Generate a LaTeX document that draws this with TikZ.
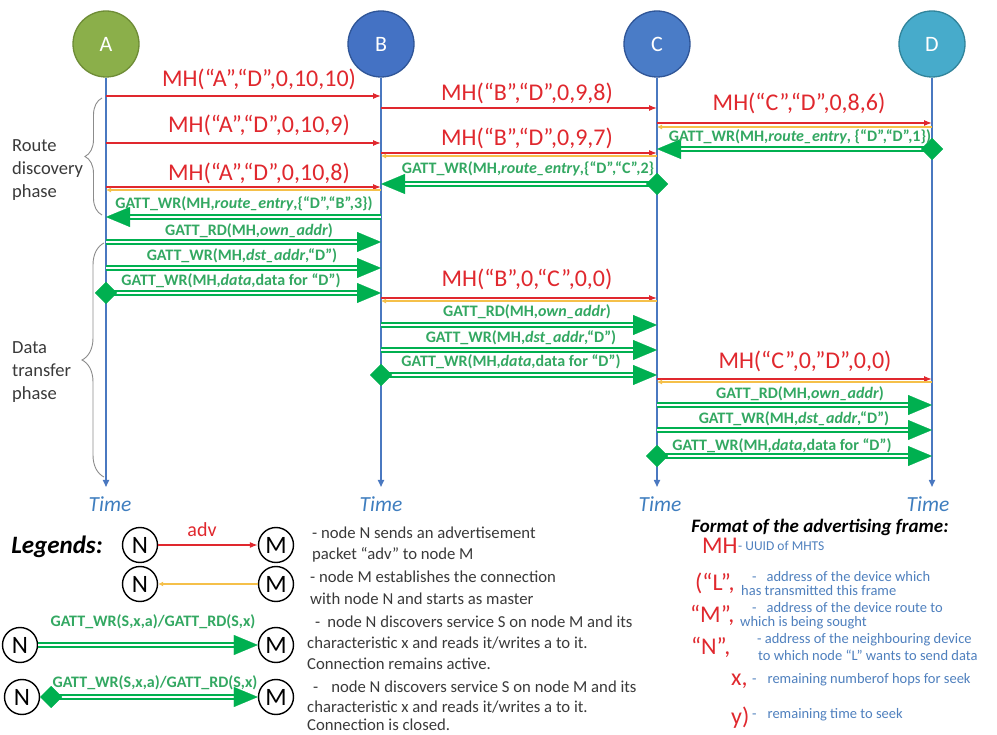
\documentclass[tikz,border=0pt]{standalone}
\usepackage{fontspec}
\setmainfont{Carlito}
\usetikzlibrary{arrows.meta,calc,decorations.pathreplacing}

\definecolor{advred}{HTML}{E0282E}
\definecolor{conyellow}{HTML}{F5C04A}
\definecolor{gattgreen}{HTML}{00B050}
\definecolor{gatttext}{HTML}{33A862}
\definecolor{lifeblue}{HTML}{4A78C0}
\definecolor{timeblue}{HTML}{3F7EBF}
\definecolor{descblue}{HTML}{4F80BE}
\definecolor{legendgray}{HTML}{3A3A3A}
\definecolor{bracegray}{HTML}{8C8C8C}
\definecolor{fillA}{HTML}{8BAF4A}
\definecolor{edgeA}{HTML}{6E8C36}
\definecolor{fillB}{HTML}{4472C4}
\definecolor{edgeB}{HTML}{2F5597}
\definecolor{fillC}{HTML}{4A7CC7}
\definecolor{fillD}{HTML}{47ABCB}
\definecolor{edgeD}{HTML}{31849B}

\begin{document}
\begin{tikzpicture}[x=1pt, y=-1pt,
  actor/.style={circle, minimum size=66pt, inner sep=0pt, line width=1.3pt, text=white, font=\fontsize{22}{24}\selectfont},
  lifeline/.style={draw=lifeblue, line width=1.6pt, arrows={-Triangle[length=7pt,width=6pt]}},
  advmsg/.style={draw=advred, line width=1.2pt, arrows={-Latex[length=8pt,width=6pt]}},
  conmsg/.style={draw=conyellow, line width=1.5pt, arrows={-Latex[length=5pt,width=5pt]}},
  gattmsg/.style={draw=gattgreen, line width=1.9pt, double=white, double distance=1.8pt,
    arrows={-Triangle[length=24pt,width=20pt,line width=0.2pt]}},
  gattend/.style={draw=gattgreen, line width=1.9pt, double=white, double distance=1.8pt,
    arrows={Diamond[length=22pt,width=22pt,line width=0.2pt]-Triangle[length=24pt,width=20pt,line width=0.2pt]}},
  advlbl/.style={text=advred, font=\fontsize{24}{26}\selectfont, inner sep=0pt},
  gattlbl/.style={text=gatttext, font=\bfseries\fontsize{16}{18}\selectfont, inner sep=0pt},
  timelbl/.style={text=timeblue, font=\itshape\fontsize{21.5}{24}\selectfont, inner sep=0pt},
  phaselbl/.style={text=legendgray, font=\fontsize{18.5}{23}\selectfont, align=left, anchor=west, inner sep=0pt},
  phasebrace/.style={draw=bracegray, line width=0.9pt, decorate},
  keynode/.style={circle, draw=black, line width=1.4pt, minimum size=35pt, inner sep=0pt, font=\fontsize{25}{27}\selectfont},
  keytext/.style={text=legendgray, font=\fontsize{16.7}{19}\selectfont, anchor=west, inner sep=0pt},
  keytitle/.style={text=black, font=\bfseries\itshape\fontsize{25}{27}\selectfont, inner sep=0pt},
  fieldlbl/.style={text=advred, font=\fontsize{24}{26}\selectfont, anchor=west, inner sep=0pt},
  fieldtext/.style={text=descblue, font=\fontsize{14.5}{16}\selectfont, anchor=west, inner sep=0pt},
]
\useasboundingbox (0,0) rectangle (997,735);
\fill[white] (0,0) rectangle (997,735);

% devices
\node[actor, fill=fillA, draw=edgeA] (A) at (106,44) {A};
\node[actor, fill=fillB, draw=edgeB] (B) at (381,44) {B};
\node[actor, fill=fillC, draw=edgeB] (C) at (657,44) {C};
\node[actor, fill=fillD, draw=edgeD] (D) at (932,44) {D};

% lifelines
\foreach \n in {A,B,C,D} \draw[lifeline] (\n.south) -- (\n |- 0,487);
\node[timelbl] (tA) at (110,504) {Time};
\node[timelbl] (tB) at (381,504) {Time};
\node[timelbl] (tC) at (660,504) {Time};
\node[timelbl] (tD) at (928,504) {Time};

% ---- route discovery ----
\draw[advmsg] (A |- 0,96) -- (B |- 0,96);
\node[advlbl] (r1) at (259,79) {MH(“A”,“D”,0,10,10)};
\draw[advmsg] (A |- 0,143) -- (B |- 0,143);
\node[advlbl] (r2) at (259,125) {MH(“A”,“D”,0,10,9)};
\draw[advmsg] (A |- 0,187) -- (B |- 0,187);
\draw[conmsg] (B |- 0,190) -- (A |- 0,190);
\node[advlbl] (r3) at (259,173) {MH(“A”,“D”,0,10,8)};

\draw[advmsg] (B |- 0,108) -- (C |- 0,108);
\node[advlbl] (r4) at (527,93) {MH(“B”,“D”,0,9,8)};
\draw[advmsg] (B |- 0,153) -- (C |- 0,153);
\draw[conmsg] (C |- 0,156) -- (B |- 0,156);
\node[advlbl] (r5) at (527,138) {MH(“B”,“D”,0,9,7)};

\draw[advmsg] (C |- 0,123) -- (D |- 0,123);
\draw[conmsg] (D |- 0,127) -- (C |- 0,127);
\node[advlbl] (r6) at (799,103) {MH(“C”,“D”,0,8,6)};

\draw[gattend] ($(D |- 0,149)+(11,0)$) -- (C |- 0,149);
\node[gattlbl] (g1) at (800,137) {GATT\_WR(MH,\textit{route\_entry}, \{“D”,“D”,1\})};
\draw[gattend] ($(C |- 0,184)+(11,0)$) -- (B |- 0,184);
\node[gattlbl] (g2) at (528,169) {GATT\_WR(MH,\textit{route\_entry},\{“D”,“C”,2\}};
\draw[gattmsg] (B |- 0,217) -- (A |- 0,217);
\node[gattlbl] (g3) at (244,204) {GATT\_WR(MH,\textit{route\_entry},\{“D”,“B”,3\})};

% ---- data transfer ----
\draw[gattmsg] (A |- 0,242) -- (B |- 0,242);
\node[gattlbl] (g4) at (249,231) {GATT\_RD(MH,\textit{own\_addr})};
\draw[gattmsg] (A |- 0,268) -- (B |- 0,268);
\node[gattlbl] (g5) at (242,256) {GATT\_WR(MH,\textit{dst\_addr},“D”)};
\draw[gattend] ($(A |- 0,293)+(-11,0)$) -- (B |- 0,293);
\node[gattlbl] (g6) at (231,281) {GATT\_WR(MH,\textit{data},data for “D”)};

\draw[advmsg] (B |- 0,298) -- (C |- 0,298);
\draw[conmsg] (C |- 0,301) -- (B |- 0,301);
\node[advlbl] (r7) at (527,279) {MH(“B”,0,“C”,0,0)};
\draw[gattmsg] (B |- 0,325) -- (C |- 0,325);
\node[gattlbl] (g7) at (527,312) {GATT\_RD(MH,\textit{own\_addr})};
\draw[gattmsg] (B |- 0,350) -- (C |- 0,350);
\node[gattlbl] (g8) at (521,338) {GATT\_WR(MH,\textit{dst\_addr},“D”)};
\draw[gattend] ($(B |- 0,375)+(-11,0)$) -- (C |- 0,375);
\node[gattlbl] (g9) at (511,362) {GATT\_WR(MH,\textit{data},data for “D”)};

\draw[advmsg] (C |- 0,379) -- (D |- 0,379);
\draw[conmsg] (D |- 0,382) -- (C |- 0,382);
\node[advlbl] (r8) at (805,361) {MH(“C”,0,”D”,0,0)};
\draw[gattmsg] (C |- 0,405) -- (D |- 0,405);
\node[gattlbl] (g10) at (800,394) {GATT\_RD(MH,\textit{own\_addr})};
\draw[gattmsg] (C |- 0,430) -- (D |- 0,430);
\node[gattlbl] (g11) at (794,419) {GATT\_WR(MH,\textit{dst\_addr},“D”)};
\draw[gattend] ($(C |- 0,456)+(-11,0)$) -- (D |- 0,456);
\node[gattlbl] (g12) at (782,446) {GATT\_WR(MH,\textit{data},data for “D”)};

% phases
\draw[phasebrace, decoration={brace, amplitude=17pt}] (102,215) -- (102,98);
\node[phaselbl] (ph1) at (12,170) {Route\\discovery\\phase};
\draw[phasebrace, decoration={brace, amplitude=22pt}] (104,477) -- (104,243);
\node[phaselbl] (ph2) at (12,372) {Data\\transfer\\phase};

% ---- legend ----
\node[keytitle] (lg) at (57,547) {Legends:};
\node[keynode] (n1) at (140,545) {N};
\node[keynode] (m1) at (276,545) {M};
\draw[advmsg] (n1) -- (m1);
\node[text=advred, font=\fontsize{20}{22}\selectfont, inner sep=0pt] (adv) at (202,530) {adv};
\node[keytext] (k1a) at (312,533) {- node N sends an advertisement};
\node[keytext] (k1b) at (312,555) {packet “adv” to node M};

\node[keynode] (n2) at (140,584) {N};
\node[keynode] (m2) at (276,584) {M};
\draw[conmsg] (m2) -- (n2);
\node[keytext] (k2a) at (310,577) {- node M establishes the connection};
\node[keytext] (k2b) at (310,599) {with node N and starts as master};

\node[keynode] (n3) at (20,645) {N};
\node[keynode] (m3) at (276,645) {M};
\draw[gattmsg] (n3) -- (m3);
\node[gattlbl] (k3l) at (153,622) {GATT\_WR(S,x,a)/GATT\_RD(S,x)};
\node[keytext] (k3a) at (315,622) {-\hspace{7pt}node N discovers service S on node M and its};
\node[keytext] (k3b) at (307,643) {characteristic x and reads it/writes a to it.};
\node[keytext] (k3c) at (307,664) {Connection remains active.};

\node[keynode] (n4) at (22,697) {N};
\node[keynode] (m4) at (276,697) {M};
\draw[gattend] (n4) -- (m4);
\node[gattlbl] (k4l) at (155,683) {GATT\_WR(S,x,a)/GATT\_RD(S,x)};
\node[keytext] (k4a) at (313,687) {-\hspace{13pt}node N discovers service S on node M and its};
\node[keytext] (k4b) at (307,707) {characteristic x and reads it/writes a to it.};
\node[keytext] (k4c) at (307,725) {Connection is closed.};

% ---- advertising frame format ----
\node[text=black, font=\bfseries\itshape\fontsize{19}{21}\selectfont, inner sep=0pt] (ft) at (820,527) {Format of the advertising frame:};
\node[fieldlbl] (f1) at (702,546) {MH};
\node[fieldtext, font=\fontsize{13.5}{15}\selectfont] (d1) at (738,546) {- UUID of MHTS};
\node[fieldlbl] (f2) at (695,583) {(“L”,};
\node[fieldtext] (d2a) at (752,577) {-\hspace{10pt}address of the device which};
\node[fieldtext] (d2b) at (741,591) {has transmitted this frame};
\node[fieldlbl] (f3) at (690,615) {“M”,};
\node[fieldtext] (d3a) at (752,608) {-\hspace{10pt}address of the device route to};
\node[fieldtext] (d3b) at (740,623) {which is being sought};
\node[fieldlbl] (f4) at (691,647) {“N”,};
\node[fieldtext] (d4a) at (757,640) {- address of the neighbouring device};
\node[fieldtext] (d4b) at (758,655) {to which node “L” wants to send data};
\node[fieldlbl] (f5) at (731,681) {x,};
\node[fieldtext] (d5) at (752,680) {-\hspace{11pt}remaining numberof hops for seek};
\node[fieldlbl] (f6) at (731,718) {y)};
\node[fieldtext] (d6) at (752,715) {-\hspace{11pt}remaining time to seek};
\end{tikzpicture}
\end{document}
